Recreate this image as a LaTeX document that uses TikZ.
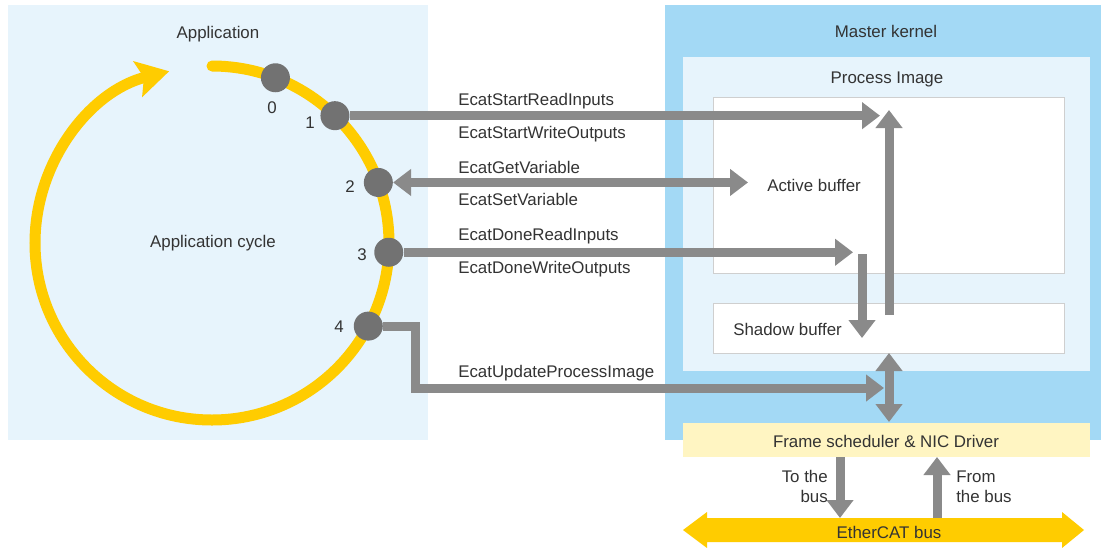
\documentclass[tikz,border=0pt]{standalone}
\usepackage{fontspec}
\setmainfont{Liberation Sans}
\usetikzlibrary{arrows.meta,calc}

\definecolor{appblue}{HTML}{E7F4FC}
\definecolor{kernelblue}{HTML}{A3D9F5}
\definecolor{buffergray}{HTML}{CFCFCF}
\definecolor{cycleyellow}{HTML}{FFCC00}
\definecolor{schedyellow}{HTML}{FFF5C2}
\definecolor{dotgray}{HTML}{727272}
\definecolor{callgray}{HTML}{8A8A8A}
\definecolor{txtgray}{HTML}{333333}

\begin{document}
\begin{tikzpicture}[x=0.025cm, y=-0.025cm,
		every node/.style={font=\fontsize{12}{14}\selectfont, text=txtgray, inner sep=0pt},
		dot/.style={circle, fill=dotgray, minimum size=0.725cm},
		call/.style={draw=callgray, line width=0.225cm, -{Triangle[length=0.45cm,width=0.65cm]}},
		callboth/.style={call, {Triangle[length=0.45cm,width=0.65cm]}-{Triangle[length=0.45cm,width=0.65cm]}},
		buffer/.style={draw=buffergray, fill=white, line width=0.6pt}]
		% Canvas
		\fill[white] (0,0) rectangle (1102,547);
		\useasboundingbox (0,0) rectangle (1102,547);
		
		% Panels
		\fill[appblue] (8,5) rectangle (428,440);
		\fill[kernelblue] (665,5) rectangle (1101,440);
		\fill[appblue] (683,57) rectangle (1090,371);
		\filldraw[buffer] (713,97) rectangle (1064,273);
		\filldraw[buffer] (713,303) rectangle (1064,353);
		\fill[schedyellow] (683,423) rectangle (1090,457);
		
		% Titles
		\node[anchor=base] (app) at (218,38) {Application};
		\node[anchor=base] (cycle) at (213,247) {Application cycle};
		\node[anchor=base] (kernel) at (886,37) {Master kernel};
		\node[anchor=base] (image) at (887,83) {Process Image};
		\node[anchor=base west] (active) at (767,191) {Active buffer};
		\node[anchor=base west] (shadow) at (733,335) {Shadow buffer};
		\node[anchor=base] (sched) at (886,447) {Frame scheduler \& NIC Driver};
		
		% Application cycle
		\coordinate (C) at (212,243);
		\draw[cycleyellow, line width=0.275cm, line cap=round,
			-{Stealth[length=0.8cm,width=0.9cm,inset=0.15cm]}]
			(C) ++(-90:177) arc[start angle=-90, end angle=256, radius=177];
		\foreach \a/\n in {-69/0, -46/1, -20/2, 3/3, 28/4}
			\node[dot] (d\n) at ($(C)+(\a:177)$) {};
		\foreach \x/\y/\n in {272/113/0, 310/128/1, 350/192/2, 362/260/3, 339/332/4}
			\node[anchor=base] (n\n) at (\x,\y) {\n};
		
		% Calls into the process image
		\coordinate (ai1) at (880,0);
		\coordinate (ai2) at (748,0);
		\coordinate (ai3) at (853,0);
		\coordinate (k4) at (415,0);
		\coordinate (ai4) at (884,388);
		\draw[call] (d1) -- (d1 -| ai1);
		\draw[callboth] (d2) -- (d2 -| ai2);
		\draw[call] (d3) -- (d3 -| ai3);
		\draw[call] (d4) -- (d4 -| k4) |- (ai4);
		
		\node[anchor=base west] (l1a) at (458,105) {EcatStartReadInputs};
		\node[anchor=base west] (l1b) at (458,138) {EcatStartWriteOutputs};
		\node[anchor=base west] (l2a) at (458,173) {EcatGetVariable};
		\node[anchor=base west] (l2b) at (458,205) {EcatSetVariable};
		\node[anchor=base west] (l3a) at (458,240) {EcatDoneReadInputs};
		\node[anchor=base west] (l3b) at (458,273) {EcatDoneWriteOutputs};
		\node[anchor=base west] (l4) at (458,377) {EcatUpdateProcessImage};
		
		% Buffer exchange
		\coordinate (up0) at (889,315);
		\coordinate (up1) at (889,110);
		\coordinate (dn0) at (862,254);
		\coordinate (dn1) at (862,338);
		\coordinate (sw0) at (889,353);
		\coordinate (sw1) at (889,422);
		\draw[call] (up0) -- (up1);
		\draw[call] (dn0) -- (dn1);
		\draw[callboth] (sw0) -- (sw1);
		
		% EtherCAT bus
		\fill[cycleyellow] (683,530) -- (707,512) -- (707,518) -- (1062,518) -- (1062,512)
			-- (1084,530) -- (1062,548) -- (1062,542) -- (707,542) -- (707,548) -- cycle;
		\node[anchor=base] (bus) at (889,538) {EtherCAT bus};
		
		\coordinate (tx0) at (840,457);
		\coordinate (tx1) at (840,518);
		\coordinate (rx0) at (937,518);
		\coordinate (rx1) at (937,457);
		\draw[call] (tx0) -- (tx1);
		\draw[call] (rx0) -- (rx1);
		\node[anchor=base east, align=right] (tx) at (828,502) {To the\\bus};
		\node[anchor=base west, align=left] (rx) at (956,502) {From\\the bus};
	\end{tikzpicture}
\end{document}
